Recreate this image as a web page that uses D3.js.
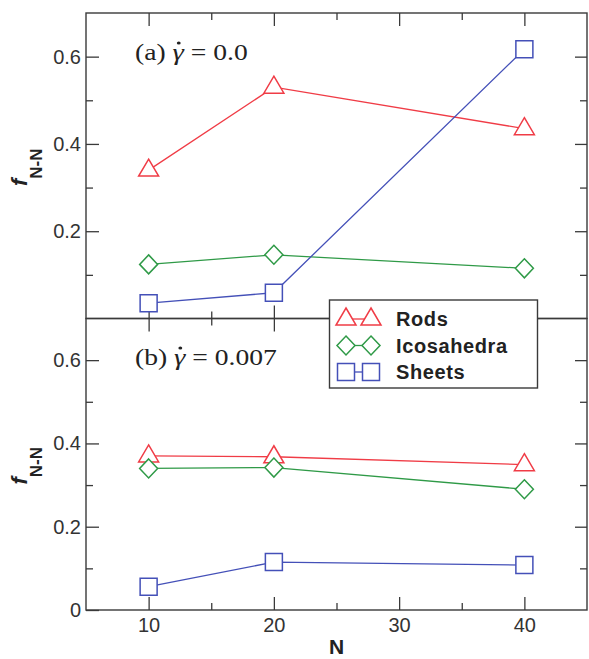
<!DOCTYPE html>
<html><head><meta charset="utf-8">
<script src="https://cdn.jsdelivr.net/npm/d3@7"></script>
<style>body{margin:0;background:#fff}</style>
</head><body>
<svg id="chart" width="589" height="659"></svg>
<script>
// ---- data ----
const nValues = [10, 20, 40];
const rodsA   = [0.340, 0.530, 0.435];
const icosaA  = [0.124, 0.146, 0.115];
const sheetsA = [0.035, 0.059, 0.617];
const rodsB   = [0.370, 0.368, 0.349];
const icosaB  = [0.340, 0.342, 0.290];
const sheetsB = [0.056, 0.115, 0.108];
const seriesNames = ["Rods", "Icosahedra", "Sheets"];
const panelTags = ["(a)", "(b)"];
const shearRates = ["0.0", "0.007"];
const xMajor = [10, 20, 30, 40];
const xMinor = [15, 25, 35];
const yMajorA = [0.2, 0.4, 0.6];
const yMajorB = [0, 0.2, 0.4, 0.6];
const yMinor = [0.1, 0.3, 0.5];
const xDomain = [5, 45];
const yDomain = [0, 0.7];

// ---- style ----
const colors = ["#f03c46", "#2f9a47", "#4450b8"];
const shapes = ["tri", "dia", "sq"];
const frameColor = "#3a3a3a";
const L = 86, R = 587, T = 13, M = 318.5, B = 610;

const svg = d3.select("#chart");
const x = d3.scaleLinear().domain(xDomain).range([L, R]);
const yA = d3.scaleLinear().domain(yDomain).range([M, T]);
const yB = d3.scaleLinear().domain(yDomain).range([B, M]);

function markerPath(shape) {
  if (shape === "tri") return "M0,-11L10,6L-10,6Z";
  if (shape === "dia") return "M0,-9.5L9,0L0,9.5L-9,0Z";
  return "M-8.5,-8.5H8.5V8.5H-8.5Z";
}

const fmt = d => d === 0 ? "0" : d.toFixed(1);

function styleAxis(g) {
  g.select(".domain").remove();
  g.selectAll(".tick line").attr("stroke", frameColor).attr("stroke-width", 1.3);
  g.selectAll(".tick text").attr("fill", "#333").attr("font-size", 20)
    .attr("font-family", "'Liberation Sans', Arial, sans-serif");
}

function drawPanel(y, top, bottom, yMajor, data, idx, showXLabels) {
  const g = svg.append("g");
  // left
  g.append("g").attr("transform", `translate(${L},0)`)
    .call(d3.axisLeft(y).tickValues(yMajor).tickSize(-13).tickPadding(5).tickFormat(fmt)).call(styleAxis);
  g.append("g").attr("transform", `translate(${L},0)`)
    .call(d3.axisLeft(y).tickValues(yMinor).tickSize(-7).tickFormat("")).call(styleAxis);
  // right
  g.append("g").attr("transform", `translate(${R},0)`)
    .call(d3.axisRight(y).tickValues(yMajor.filter(v => v > 0)).tickSize(-12).tickFormat("")).call(styleAxis);
  g.append("g").attr("transform", `translate(${R},0)`)
    .call(d3.axisRight(y).tickValues(yMinor).tickSize(-7).tickFormat("")).call(styleAxis);
  // top
  g.append("g").attr("transform", `translate(0,${top})`)
    .call(d3.axisTop(x).tickValues(xMajor).tickSize(-13).tickFormat("")).call(styleAxis);
  g.append("g").attr("transform", `translate(0,${top})`)
    .call(d3.axisTop(x).tickValues(xMinor).tickSize(-7).tickFormat("")).call(styleAxis);
  // bottom
  const bx = g.append("g").attr("transform", `translate(0,${bottom})`)
    .call(d3.axisBottom(x).tickValues(xMajor).tickSize(-13).tickPadding(8)
      .tickFormat(showXLabels ? d3.format("d") : "")).call(styleAxis);
  bx.selectAll(".tick text").attr("dy", "0.71em");
  g.append("g").attr("transform", `translate(0,${bottom})`)
    .call(d3.axisBottom(x).tickValues(xMinor).tickSize(-7).tickFormat("")).call(styleAxis);

  // frame
  g.append("rect").attr("x", L).attr("y", top).attr("width", R - L).attr("height", bottom - top)
    .attr("fill", "none").attr("stroke", frameColor).attr("stroke-width", 1.4);

  // series
  const line = d3.line().x((d, i) => x(nValues[i])).y(d => y(d));
  data.forEach((vals, s) => {
    g.append("path").attr("d", line(vals)).attr("fill", "none")
      .attr("stroke", colors[s]).attr("stroke-width", 1.3);
  });
  data.forEach((vals, s) => {
    g.selectAll(null).data(vals).enter().append("path")
      .attr("transform", (d, i) => `translate(${x(nValues[i])},${y(d)})`)
      .attr("d", markerPath(shapes[s]))
      .attr("fill", "#fff").attr("stroke", colors[s]).attr("stroke-width", 1.5);
  });

  // panel label
  const yc = (top + bottom) / 2 + 1.5;
  const lg = g.append("g")
    .attr("transform", `translate(135,${top + (idx === 0 ? 47 : 46.5)}) scale(1.2,1)`);
  const lab = lg.append("text")
    .attr("font-family", "'Liberation Serif', 'Times New Roman', serif")
    .attr("font-size", 23).attr("fill", "#222");
  const pre = panelTags[idx] + " ";
  lab.append("tspan").text(pre);
  lab.append("tspan").attr("font-style", "italic").attr("font-size", 24).text("\u03B3");
  lab.append("tspan").text(" = " + shearRates[idx]);
  try {
    const ext = lab.node().getExtentOfChar(pre.length);
    lg.append("circle").attr("cx", ext.x + ext.width * 0.55).attr("cy", -17)
      .attr("r", 1.6).attr("fill", "#222");
  } catch (e) {}

  // y label
  const yl = g.append("text")
    .attr("transform", `translate(27,${yc}) rotate(-90)`)
    .attr("text-anchor", "middle")
    .attr("font-family", "'Liberation Sans', Arial, sans-serif")
    .attr("font-weight", "bold").attr("fill", "#222");
  yl.append("tspan").attr("font-style", "italic").attr("font-size", 22).text("f");
  yl.append("tspan").attr("font-size", 17).attr("dy", 15).text("N-N");
}

drawPanel(yA, T, M, yMajorA, [rodsA, icosaA, sheetsA], 0, false);
drawPanel(yB, M, B, yMajorB, [rodsB, icosaB, sheetsB], 1, true);

// x label
svg.append("text").attr("x", (L + R) / 2).attr("y", 654).attr("text-anchor", "middle")
  .attr("font-family", "'Liberation Sans', Arial, sans-serif").attr("font-weight", "bold")
  .attr("font-size", 21).attr("fill", "#222").text("N");

// legend
const lg = svg.append("g");
lg.append("rect").attr("x", 329.5).attr("y", 300).attr("width", 208).attr("height", 88)
  .attr("fill", "#fff").attr("stroke", frameColor).attr("stroke-width", 1.4);
const rowY = [319, 345.5, 372];
seriesNames.forEach((name, s) => {
  const cy = rowY[s];
  lg.append("line").attr("x1", 346).attr("x2", 371).attr("y1", cy).attr("y2", cy)
    .attr("stroke", colors[s]).attr("stroke-width", 1.3);
  [346, 371].forEach(cx => {
    lg.append("path").attr("transform", `translate(${cx},${cy})`).attr("d", markerPath(shapes[s]))
      .attr("fill", "#fff").attr("stroke", colors[s]).attr("stroke-width", 1.5);
  });
  lg.append("text").attr("x", 396).attr("y", cy + 7)
    .attr("font-family", "'Liberation Sans', Arial, sans-serif").attr("font-weight", "bold")
    .attr("font-size", 20).attr("letter-spacing", 0.6).attr("fill", "#222").text(name);
});
</script>
</body></html>
